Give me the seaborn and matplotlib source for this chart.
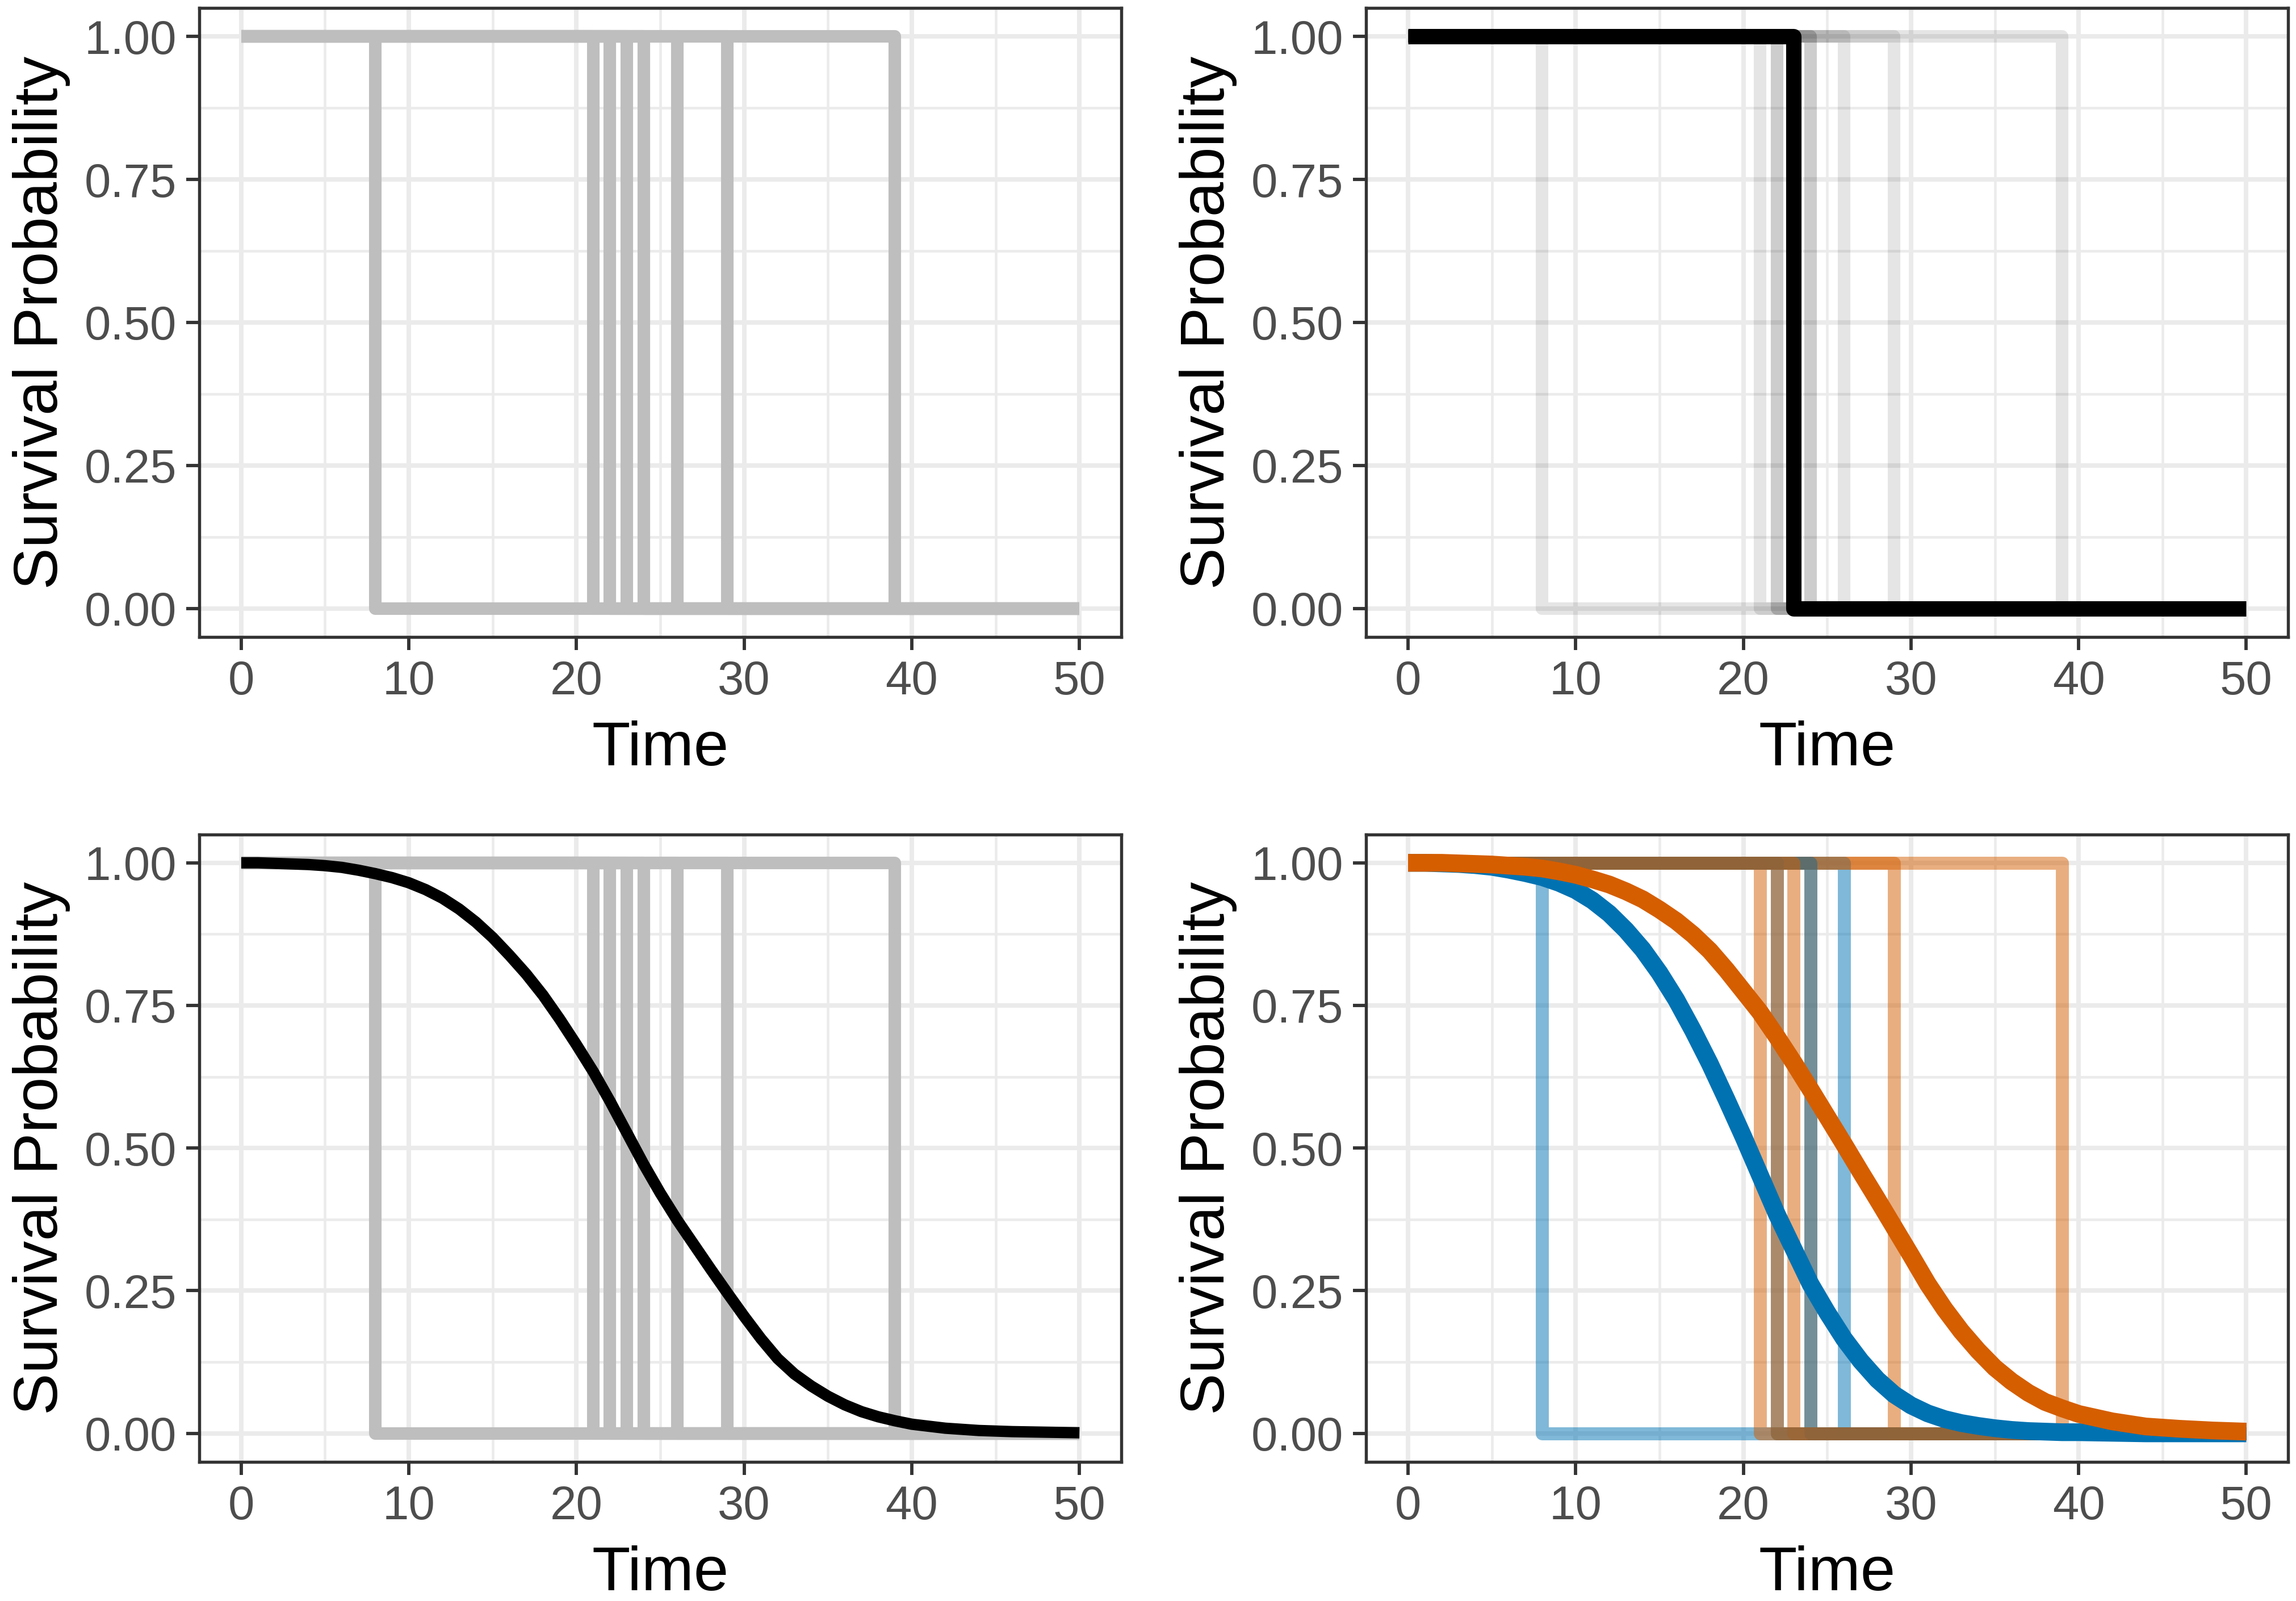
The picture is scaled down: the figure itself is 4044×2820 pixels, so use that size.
import pandas as pd
import seaborn as sns
import matplotlib.pyplot as plt

# observed event times, one per subject (order = drawing order)
event_times = [8, 21, 39, 26, 29, 24, 24, 23, 22, 22]
event_groups = ["A", "B", "B", "A", "B", "B", "A", "B", "A", "B"]
highlight_time = 23

# fitted survival curves
curve_time = [0, 1, 2, 3, 4, 5, 6, 7, 8, 9, 10, 11, 12, 13, 14, 15, 16, 17, 18, 19,
              20, 21, 22, 23, 24, 25, 26, 27, 28, 29, 30, 31, 32, 33, 34, 35, 36, 37,
              38, 39, 40, 42, 44, 46, 48, 50]
surv_overall = [1.000, 1.000, 0.999, 0.998, 0.997, 0.995, 0.992, 0.987, 0.981, 0.974,
                0.965, 0.953, 0.938, 0.919, 0.896, 0.869, 0.838, 0.805, 0.768, 0.726,
                0.681, 0.634, 0.582, 0.527, 0.472, 0.421, 0.374, 0.331, 0.288, 0.246,
                0.205, 0.166, 0.131, 0.104, 0.083, 0.065, 0.050, 0.038, 0.029, 0.022,
                0.016, 0.009, 0.005, 0.003, 0.002, 0.001]
surv_A = [1.000, 1.000, 0.999, 0.998, 0.996, 0.993, 0.988, 0.982, 0.975, 0.965,
          0.952, 0.934, 0.911, 0.882, 0.848, 0.807, 0.760, 0.706, 0.648, 0.585,
          0.520, 0.452, 0.384, 0.323, 0.262, 0.212, 0.166, 0.127, 0.094, 0.068,
          0.049, 0.035, 0.025, 0.018, 0.013, 0.009, 0.006, 0.004, 0.003, 0.002,
          0.002, 0.001, 0.000, 0.000, 0.000, 0.000]
surv_B = [1.000, 1.000, 1.000, 0.999, 0.998, 0.997, 0.995, 0.993, 0.990, 0.985,
          0.979, 0.971, 0.962, 0.950, 0.936, 0.918, 0.898, 0.874, 0.846, 0.812,
          0.775, 0.738, 0.695, 0.650, 0.603, 0.555, 0.507, 0.458, 0.410, 0.361,
          0.312, 0.262, 0.218, 0.179, 0.145, 0.115, 0.091, 0.071, 0.055, 0.044,
          0.034, 0.021, 0.012, 0.008, 0.005, 0.003]

x_ticks = [0, 10, 20, 30, 40, 50]
x_minor = [5, 15, 25, 35, 45]
y_ticks = [0, 0.25, 0.5, 0.75, 1.0]
y_labels = ["0.00", "0.25", "0.50", "0.75", "1.00"]
y_minor = [0.125, 0.375, 0.625, 0.875]

group_colors = {"A": "#0072B2", "B": "#D55E00"}
grey = "#BEBEBE"

sns.set_theme(style="white")
plt.rcParams["font.family"] = ["Liberation Sans", "DejaVu Sans"]


def draw_step(ax, t, color, alpha=1.0, lw=5.3):
    df = pd.DataFrame({"time": [0, t, 50], "surv": [1, 0, 0]})
    sns.lineplot(data=df, x="time", y="surv", ax=ax, color=color, alpha=alpha,
                 linewidth=lw, drawstyle="steps-post", estimator=None,
                 solid_joinstyle="round", solid_capstyle="butt", legend=False)


def draw_curve(ax, surv, color, lw):
    df = pd.DataFrame({"time": curve_time, "surv": surv})
    sns.lineplot(data=df, x="time", y="surv", ax=ax, color=color, linewidth=lw,
                 estimator=None, solid_capstyle="butt", legend=False)


def style_axis(ax):
    ax.set_xlim(-2.5, 52.5)
    ax.set_ylim(-0.05, 1.05)
    ax.set_xticks(x_ticks)
    ax.set_xticks(x_minor, minor=True)
    ax.set_yticks(y_ticks)
    ax.set_yticklabels(y_labels)
    ax.set_yticks(y_minor, minor=True)
    ax.grid(which="major", color="#EBEBEB", linewidth=1.9)
    ax.grid(which="minor", color="#EBEBEB", linewidth=1.1)
    ax.set_axisbelow(True)
    for s in ax.spines.values():
        s.set_color("#333333")
        s.set_linewidth(1.3)
    ax.tick_params(which="major", length=5.5, width=1.4, color="#333333",
                   labelsize=20, labelcolor="#4D4D4D", pad=4,
                   bottom=True, left=True)
    ax.tick_params(which="minor", length=0)
    ax.set_xlabel("Time", fontsize=26.5, color="black", labelpad=7)
    ax.set_ylabel("Survival Probability", fontsize=26.5, color="black", labelpad=6)


fig = plt.figure(figsize=(4044 / 300, 2820 / 300), dpi=300)
ax1 = fig.add_axes([0.0868, 0.6021, 0.4016, 0.3930])
ax2 = fig.add_axes([0.5950, 0.6021, 0.4016, 0.3930])
ax3 = fig.add_axes([0.0868, 0.0869, 0.4016, 0.3920])
ax4 = fig.add_axes([0.5950, 0.0869, 0.4016, 0.3920])

# panel 1: individual step functions
for t in event_times:
    draw_step(ax1, t, grey)

# panel 2: one subject highlighted
for t in event_times:
    draw_step(ax2, t, "black", alpha=0.1)
draw_step(ax2, highlight_time, "black", lw=6.5)

# panel 3: steps + overall survival curve
for t in event_times:
    draw_step(ax3, t, grey)
draw_curve(ax3, surv_overall, "black", 4.8)

# panel 4: by group
for t, g in zip(event_times, event_groups):
    draw_step(ax4, t, group_colors[g], alpha=0.5, lw=5.5)
draw_curve(ax4, surv_A, group_colors["A"], 7.5)
draw_curve(ax4, surv_B, group_colors["B"], 7.5)

for ax in [ax1, ax2, ax3, ax4]:
    style_axis(ax)

fig.savefig("out.png", dpi=300)
